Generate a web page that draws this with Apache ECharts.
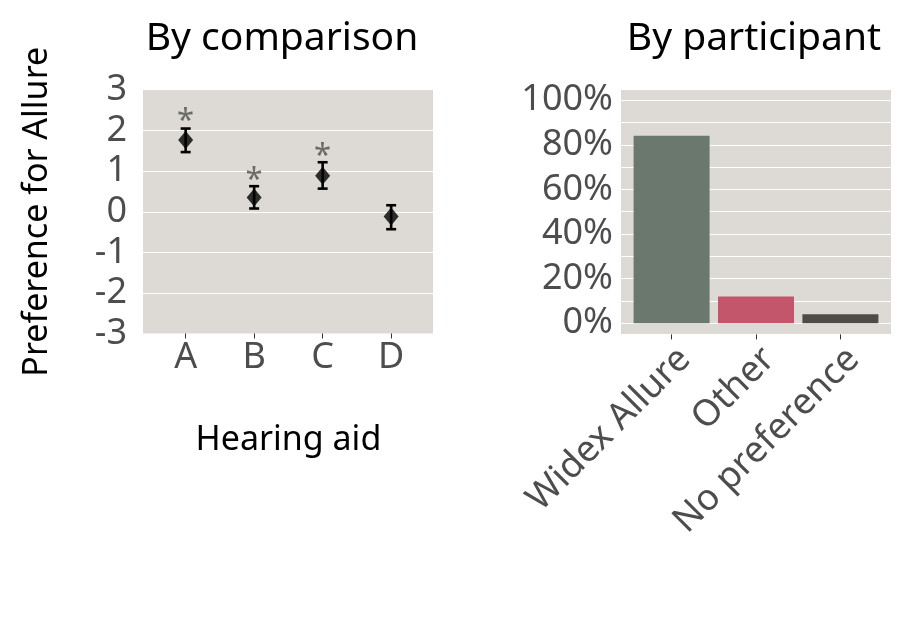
<!DOCTYPE html>
<html>
<head>
<meta charset="utf-8">
<script src="https://cdn.jsdelivr.net/npm/echarts@6/dist/echarts.min.js"></script>
<style>
  html, body { margin: 0; padding: 0; background: #fff; }
  #main { width: 917px; height: 634px; }
</style>
</head>
<body>
<div id="main"></div>
<script>
'use strict';
// left panel: preference by comparison (mean and 95% CI)
var aidNames = ['A', 'B', 'C', 'D'];
var prefMean = [1.77, 0.35, 0.89, -0.12];
var prefLow = [1.47, 0.08, 0.57, -0.43];
var prefHigh = [2.05, 0.63, 1.22, 0.16];
var starPos = [2.23, 0.78, 1.37, null];
var leftTicks = [-3, -2, -1, 0, 1, 2, 3];

// right panel: share of participants
var choiceNames = ['Widex Allure', 'Other', 'No preference'];
var choicePct = [84, 12, 4];
var choiceColors = ['#6a786e', '#c4566b', '#4f4b48'];
var rightTicks = [0, 20, 40, 60, 80, 100];

var panelBg = '#dddad5';
var tickGrey = '#4d4d4d';
var fontName = 'Noto Sans';

var myChart = echarts.init(document.getElementById('main'));

var errData = [];
for (var i = 0; i < aidNames.length; i++) {
    errData.push([i, prefLow[i], prefHigh[i]]);
}
var starData = [];
for (var j = 0; j < aidNames.length; j++) {
    if (starPos[j] !== null) starData.push([j, starPos[j]]);
}
var barData = choicePct.map(function (v, k) {
    return { value: v, itemStyle: { color: choiceColors[k] } };
});

var option = {
    animation: false,
    textStyle: { fontFamily: fontName },
    graphic: [
        { type: 'text', x: 282, y: 39, style: { text: 'By comparison', fill: '#000', font: '39px "Noto Sans"', textAlign: 'center', textVerticalAlign: 'middle' } },
        { type: 'text', x: 754, y: 39, style: { text: 'By participant', fill: '#000', font: '39px "Noto Sans"', textAlign: 'center', textVerticalAlign: 'middle' } }
    ],
    grid: [
        { left: 143, right: 484, top: 90, bottom: 300.5, show: true, backgroundColor: panelBg, borderWidth: 0 },
        { left: 151.4, right: 491.6, top: 90, bottom: 300.5 },
        { left: 621, right: 26, top: 89, bottom: 299.6, show: true, backgroundColor: panelBg, borderWidth: 0 },
        { left: 629.4, right: 34.4, top: 89, bottom: 299.6 }
    ],
    xAxis: [
        { gridIndex: 0, type: 'category', data: aidNames, show: false },
        {
            gridIndex: 1, type: 'category', data: aidNames,
            name: 'Hearing aid', nameLocation: 'middle', nameGap: 90,
            nameTextStyle: { fontSize: 34, color: '#000', fontFamily: fontName },
            axisLine: { show: false, onZero: false },
            axisTick: { show: true, alignWithLabel: true, length: 5, lineStyle: { color: '#333' } },
            axisLabel: { fontSize: 36, color: tickGrey, margin: 6, fontFamily: fontName },
            splitLine: { show: false }
        },
        { gridIndex: 2, type: 'category', data: choiceNames, show: false },
        {
            gridIndex: 3, type: 'category', data: choiceNames,
            axisLine: { show: false, onZero: false },
            axisTick: { show: true, alignWithLabel: true, length: 5, lineStyle: { color: '#333' } },
            axisLabel: { fontSize: 36.5, color: tickGrey, margin: 6, rotate: 45, align: 'right', verticalAlign: 'top', fontFamily: fontName, interval: 0 },
            splitLine: { show: false }
        }
    ],
    yAxis: [
        {
            gridIndex: 0, type: 'value', min: -3, max: 3, interval: 1,
            name: 'Preference for Allure', nameLocation: 'middle', nameRotate: 90, nameGap: 89,
            nameTextStyle: { fontSize: 34, color: '#000', fontFamily: fontName },
            axisLine: { show: false }, axisTick: { show: false },
            axisLabel: { fontSize: 36, color: tickGrey, margin: 16, fontFamily: fontName },
            splitLine: { show: true, lineStyle: { color: ['rgba(255,255,255,0)', '#fff', '#fff', '#fff', '#fff', '#fff', 'rgba(255,255,255,0)'], width: 1.2 } }
        },
        { gridIndex: 1, type: 'value', min: -3, max: 3, show: false },
        {
            gridIndex: 2, type: 'value', min: -5, max: 105, splitNumber: 11,
            axisLine: { show: false }, axisTick: { show: false },
            axisLabel: {
                fontSize: 36, color: tickGrey, margin: 8, fontFamily: fontName,
                formatter: function (v) {
                    return rightTicks.indexOf(v) >= 0 ? v + '%' : '';
                }
            },
            splitLine: { show: true, lineStyle: { color: '#fff', width: 1.2 } }
        },
        { gridIndex: 3, type: 'value', min: -5, max: 105, show: false }
    ],
    series: [
        {
            name: 'ci', type: 'custom', xAxisIndex: 1, yAxisIndex: 1,
            data: errData,
            renderItem: function (params, api) {
                var x = api.coord([api.value(0), 0])[0];
                var lo = api.coord([api.value(0), api.value(1)])[1];
                var hi = api.coord([api.value(0), api.value(2)])[1];
                var half = 5;
                var st = { stroke: '#000', lineWidth: 2.6 };
                return {
                    type: 'group',
                    children: [
                        { type: 'line', shape: { x1: x, y1: lo, x2: x, y2: hi }, style: st },
                        { type: 'line', shape: { x1: x - half, y1: lo, x2: x + half, y2: lo }, style: st },
                        { type: 'line', shape: { x1: x - half, y1: hi, x2: x + half, y2: hi }, style: st }
                    ]
                };
            },
            z: 3
        },
        {
            name: 'mean', type: 'scatter', xAxisIndex: 1, yAxisIndex: 1,
            data: prefMean,
            symbol: 'diamond', symbolSize: [15, 18],
            itemStyle: { color: '#000' },
            z: 4
        },
        {
            name: 'sig', type: 'scatter', xAxisIndex: 1, yAxisIndex: 1,
            data: starData,
            symbolSize: 0,
            label: { show: true, position: 'inside', formatter: '*', fontSize: 31, color: tickGrey, fontFamily: fontName },
            z: 4
        },
        {
            name: 'share', type: 'bar', xAxisIndex: 3, yAxisIndex: 3,
            data: barData,
            barWidth: 76
        }
    ]
};
myChart.setOption(option);
</script>
</body>
</html>
